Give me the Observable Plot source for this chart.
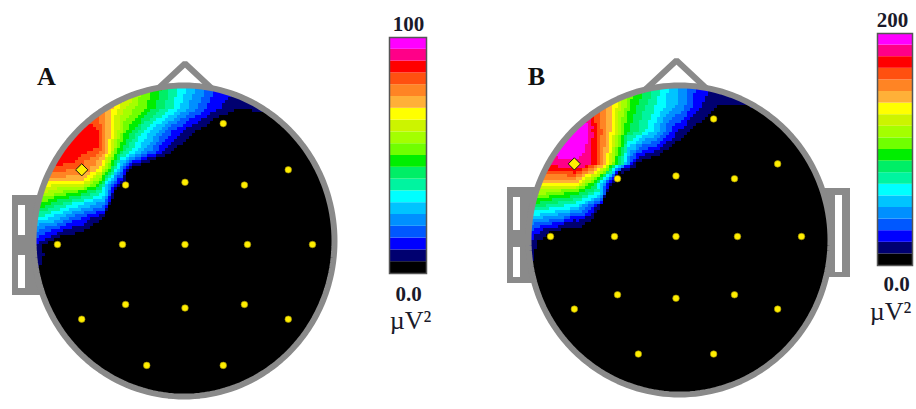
<!DOCTYPE html>
<html><head><meta charset="utf-8">
<script src="https://cdn.jsdelivr.net/npm/d3@7"></script>
<script src="https://cdn.jsdelivr.net/npm/@observablehq/plot@0.6"></script>
<style>
html,body{margin:0;padding:0;background:#fff;}
#fig{position:relative;width:916px;height:409px;overflow:hidden;background:#fff;}
#fig svg{position:absolute;top:0;}
</style></head><body><div id="fig"></div>
<script>
// ---------- data ----------
const bandColors = ["#000000","#000070","#0000ff","#0058ff","#0090ff","#00c4ff","#00ffff","#00f4a0","#00ee66","#00ee00",
  "#70ff00","#a4ff00","#ccf400","#ffff00","#ffb038","#ff8424","#ff5010","#ff0000","#ff0088","#ff00ff"];
const panelLabels = ["A", "B"];
const scaleMaxLabels = ["100", "200"];
const scaleMax = [100, 200];
const zeroLabel = "0.0";
const unitLabel = "\u00b5V\u00b2";
const markedElectrode = "F7";

const electrodeNames = ["Fp2","F7","F3","Fz","F4","F8","T3","C3","Cz","C4","T4","T5","P3","Pz","P4","T6","O1","O2"];
const electrodeU = [0.300,-0.810,-0.466,0.000,0.466,0.810,-1.000,-0.490,0.000,0.490,1.000,-0.810,-0.466,0.000,0.466,0.810,-0.300,0.300];
const electrodeV = [0.952,0.588,0.468,0.490,0.468,0.588,0.000,0.000,0.000,0.000,0.000,-0.588,-0.472,-0.500,-0.472,-0.588,-0.952,-0.952];
const electrodeValueA = [0,80,0,0,0,0,0,0,0,0,0,0,0,0,0,0,0,0];
const electrodeValueB = [0,188,0,0,0,0,0,0,0,0,0,0,0,0,0,0,0,0];

// values read along the scalp rim (angle from the nose, degrees; negative = left)
const rimAngleA = [60,90,120,150,180,-150,-130,46,40,35,30,25,20,15,10,5,0,-5,-10,-15,-20,-25,-30,-35,-40,-45,-50,-55,-60,-65,-67,-73,-77.5,-81,-83.5,-87,-91,-94,-97,-101,-104,-112];
const rimValueA = [0,0,0,0,0,0,0,0,3,5,6,7,9,12,17,25,32,39,47,53,59,66,73,80,85,88,89,88,86,78,72,58,47,34,28,21,14,11,8,6,3,0];
const rimAngleB = [60,90,120,150,180,-150,-130,46,40,34,28,20,11,5,1,-3,-7,-12,-19,-25,-31,-36,-41,-46,-55,-60,-63,-66,-68.5,-71,-74,-77,-80,-83,-86.5,-92,-96.5,-99,-103,-110];
const rimValueB = [0,0,0,0,0,0,0,0,4,8,12,16,22,34,48,58,70,86,106,132,156,176,190,194,194,186,172,156,140,124,104,88,66,48,32,20,15,11,6,0];

// interior samples (scalp units: electrode ring radius = 1)
const sampleUA = [-0.859,-0.773,-0.914,-0.686,
  -0.686,-0.647,-0.569,-0.467,-0.341,-0.224,-0.114,-0.020,0.027,
  -0.647,-0.600,-0.522,-0.404,-0.310,-0.216,-0.153,-0.114,
  -0.718,-0.663,-0.592,-0.529,-0.482,-0.443,
  -0.812,-0.812,-0.812,-0.812,-0.812,-0.812,
  -0.271,-0.075,0.027,0.161,0.333,0.420,
  -0.686,-0.639,
  0.239,0.122,0.027,-0.075,-0.192,-0.349,-0.537,-0.584,-0.647,-0.976,-1.118];
const sampleVA = [0.740,0.819,0.646,0.764,
  0.898,0.898,0.898,0.898,0.898,0.898,0.898,0.898,0.898,
  0.740,0.740,0.740,0.740,0.740,0.740,0.740,0.740,
  0.591,0.591,0.591,0.591,0.591,0.591,
  0.488,0.409,0.315,0.213,0.126,0.087,
  1.079,1.079,1.079,1.079,1.079,1.079,
  0.465,0.378,
  0.992,0.898,0.819,0.740,0.685,0.630,0.449,0.323,0.197,0.055,-0.016];
const sampleValueA = [89,88,86,85,
  85,78,68,50,36,26,16,10,7,
  78,68,47,33,24,14,9,6,
  72,66,47,30,15,4,
  68,47,30,15,8,4,
  47,33,24,15,8,5,
  47,30,
  4,4,4,4,4,4,4,4,4,4,4];

const sampleUB = [-0.801,-0.880,-0.721,-0.705,-0.745,
  -0.681,-0.641,-0.570,-0.506,-0.402,-0.299,-0.203,-0.108,-0.020,0.076,0.124,
  -0.705,-0.649,-0.594,-0.546,-0.474,-0.410,-0.355,-0.307,
  -0.801,-0.801,-0.801,-0.801,-0.801,-0.801,-0.801,-0.801,
  -0.482,-0.347,-0.124,0.052,0.147,0.259,0.371,
  -0.657,-0.602,
  0.291,0.195,0.036,-0.124,-0.283,-0.466,-0.538,-0.602,-0.665,-0.825,-1.000,-1.104];
const sampleVB = [0.777,0.696,0.899,0.777,0.656,
  0.858,0.858,0.858,0.858,0.858,0.858,0.858,0.858,0.858,0.858,0.858,
  0.591,0.591,0.591,0.591,0.591,0.591,0.591,0.591,
  0.526,0.470,0.421,0.348,0.251,0.162,0.081,0.049,
  1.045,1.045,1.045,1.045,1.045,1.045,1.045,
  0.429,0.348,
  0.964,0.899,0.777,0.656,0.575,0.510,0.372,0.235,0.130,0.065,0.032,-0.057];
const sampleValueB = [198,196,194,190,190,
  180,174,154,136,94,80,64,44,26,14,8,
  186,174,154,136,94,64,26,8,
  174,154,136,94,64,26,16,8,
  132,94,64,44,26,14,8,
  94,64,
  8,8,8,8,8,8,8,8,8,8,8,8];

// ---------- layout (pixels) ----------
const GRAY = "#8a8a8a";
const H = 409;
const panels = [
  {id:"A", label: panelLabels[0], max: scaleMax[0], maxLabel: scaleMaxLabels[0],
   left:0, width:370, cx:184.5, cy:244, sx:127.5, sy:127,
   head:[183.5,240.5,150.5,155.5], nose:{x:184.5, apexY:63, baseY:92, slope:1.07},
   ears:[{x1:12,x2:40,y1:195,y2:295, holes:[[18,25,205,235],[18,25,255,288]]}],
   labelPos:[46,76.5],
   cb:{left:375,width:70,x1:389,x2:426,y1:37,y2:273, top:[0.5,-13], zero:[0.5,20.5], unit:[2.5,47]},
   rimAngle: rimAngleA, rimValue: rimValueA, su: sampleUA, sv: sampleVA, sval: sampleValueA, elecValue: electrodeValueA},
  {id:"B", label: panelLabels[1], max: scaleMax[1], maxLabel: scaleMaxLabels[1],
   left:490, width:370, cx:675.5, cy:236, sx:125.5, sy:123.5,
   head:[679,239.5,151,154.5], nose:{x:676, apexY:60, baseY:90, slope:1.07},
   ears:[{x1:507,x2:536,y1:187,y2:283, holes:[[513,520,197,230],[513,520,247,277]]},
         {x1:824,x2:850,y1:188,y2:277, holes:[[835,842,195,272]]}],
   labelPos:[46,76],
   cb:{left:860,width:56,x1:877,x2:912,y1:33,y2:265, top:[-2.5,-13], zero:[1.5,18.5], unit:[-4.5,46]},
   rimAngle: rimAngleB, rimValue: rimValueB, su: sampleUB, sv: sampleVB, sval: sampleValueB, elecValue: electrodeValueB}
];

const fig = document.getElementById("fig");
const ns = "http://www.w3.org/2000/svg";

function colorScale(P) {
  return {type: "threshold", domain: d3.range(1, bandColors.length).map(i => i * P.max / bandColors.length), range: bandColors};
}

function headPlot(P) {
  const toU = px => (px - P.cx) / P.sx;
  const toV = py => (P.cy - py) / P.sy;
  const [hx, hy, hrx, hry] = P.head;
  const rad = Math.PI / 180;
  const rimPoint = t => ({u: toU(hx + hrx * Math.sin(t * rad)), v: toV(hy - hry * Math.cos(t * rad))});
  const samples = [];
  P.rimAngle.forEach((t, i) => samples.push({...rimPoint(t), value: P.rimValue[i]}));
  P.su.forEach((u, i) => samples.push({u, v: P.sv[i], value: P.sval[i]}));
  electrodeNames.forEach((n, i) => samples.push({u: electrodeU[i], v: electrodeV[i], value: P.elecValue[i]}));
  const outline = d3.range(0, 360, 2).map(rimPoint);
  const earRects = P.ears.map(e => ({x1: toU(e.x1), x2: toU(e.x2), y1: toV(e.y2), y2: toV(e.y1)}));
  const holes = P.ears.flatMap(e => e.holes.map(h => ({x1: toU(h[0]), x2: toU(h[1]), y1: toV(h[3]), y2: toV(h[2])})));
  const N = P.nose, hw = N.slope * (N.baseY - N.apexY);
  const nose = [{u: toU(N.x), v: toV(N.apexY)}, {u: toU(N.x + hw), v: toV(N.baseY)}, {u: toU(N.x - hw), v: toV(N.baseY)}];
  const elecs = electrodeNames.map((n, i) => ({name: n, u: electrodeU[i], v: electrodeV[i]}));
  const plot = Plot.plot({
    width: P.width, height: H, margin: 0,
    x: {domain: [toU(P.left), toU(P.left + P.width)], axis: null},
    y: {domain: [toV(H), toV(0)], axis: null},
    color: colorScale(P),
    marks: [
      Plot.rect(earRects, {x1: "x1", x2: "x2", y1: "y1", y2: "y2", fill: GRAY}),
      Plot.rect(holes, {x1: "x1", x2: "x2", y1: "y1", y2: "y2", fill: "white"}),
      Plot.line(nose, {x: "u", y: "v", stroke: GRAY, strokeWidth: 6, fill: "white", curve: "linear-closed", strokeLinejoin: "miter"}),
      Plot.raster(samples, {x: "u", y: "v", fill: "value", interpolate: "barycentric", pixelSize: 3, imageRendering: "pixelated",
        x1: toU(hx - hrx - 4), x2: toU(hx + hrx + 4), y1: toV(hy + hry + 4), y2: toV(hy - hry - 4)}),
      Plot.line(outline, {x: "u", y: "v", stroke: GRAY, strokeWidth: 6, curve: "linear-closed"}),
      Plot.dot(elecs.filter(d => d.name !== markedElectrode), {x: "u", y: "v", r: 3.3, fill: "#ffee00", stroke: "#9a8a00", strokeWidth: 0.6}),
      Plot.dot(elecs.filter(d => d.name === markedElectrode), {x: "u", y: "v", symbol: "diamond2", r: 5.5, fill: "#ffee00", stroke: "#111", strokeWidth: 1}),
      Plot.text([P.label], {frameAnchor: "top-left", dx: P.labelPos[0], dy: P.labelPos[1], textAnchor: "middle", lineAnchor: "middle",
        fontSize: 26, fontWeight: "bold", fontFamily: "Liberation Serif, Times New Roman, serif", fill: "#111"})
    ]
  });
  // clip the map to the inside of the head outline
  const img = plot.querySelector("image");
  if (img) {
    const defs = document.createElementNS(ns, "defs");
    const cp = document.createElementNS(ns, "clipPath");
    cp.setAttribute("id", "headclip" + P.id);
    const el = document.createElementNS(ns, "ellipse");
    el.setAttribute("cx", plot.scale("x").apply(toU(hx)));
    el.setAttribute("cy", plot.scale("y").apply(toV(hy)));
    el.setAttribute("rx", hrx);
    el.setAttribute("ry", hry);
    cp.appendChild(el); defs.appendChild(cp);
    plot.insertBefore(defs, plot.firstChild);
    const g = document.createElementNS(ns, "g");
    img.parentNode.insertBefore(g, img);
    g.appendChild(img);
    g.setAttribute("clip-path", `url(#headclip${P.id})`);
  }
  plot.style.left = P.left + "px";
  return plot;
}

function colorbarPlot(P) {
  const C = P.cb;
  const n = bandColors.length;
  const bands = d3.range(n).map(i => ({lo: i * P.max / n, hi: (i + 1) * P.max / n}));
  const font = "Liberation Serif, Times New Roman, serif";
  const plot = Plot.plot({
    width: C.width, height: H,
    marginLeft: C.x1 - C.left, marginRight: C.left + C.width - C.x2, marginTop: C.y1, marginBottom: H - C.y2,
    x: {domain: [0, 1], axis: null},
    y: {domain: [0, P.max], axis: null},
    color: colorScale(P),
    marks: [
      Plot.rect(bands, {x1: () => 0, x2: () => 1, y1: "lo", y2: "hi", fill: d => (d.lo + d.hi) / 2}),
      Plot.frame({stroke: "#555", strokeWidth: 1.5}),
      Plot.text([P.maxLabel], {frameAnchor: "top", dx: C.top[0], dy: C.top[1], textAnchor: "middle", lineAnchor: "middle",
        fontSize: 21, fontWeight: "bold", fontFamily: font, fill: "#1a1a2a"}),
      Plot.text([zeroLabel], {frameAnchor: "bottom", dx: C.zero[0], dy: C.zero[1], textAnchor: "middle", lineAnchor: "middle",
        fontSize: 21, fontWeight: "bold", fontFamily: font, fill: "#1a1a2a"}),
      Plot.text([unitLabel], {frameAnchor: "bottom", dx: C.unit[0], dy: C.unit[1], textAnchor: "middle", lineAnchor: "middle",
        fontSize: 26, fontFamily: font, fill: "#1a1a2a"})
    ]
  });
  plot.style.left = C.left + "px";
  return plot;
}

for (const P of panels) {
  fig.appendChild(headPlot(P));
  fig.appendChild(colorbarPlot(P));
}
</script></body></html>
